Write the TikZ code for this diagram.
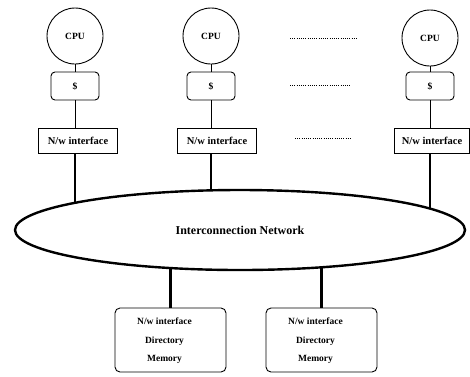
\documentclass[tikz,border=0pt]{standalone}
\usepackage{fontspec}
\setmainfont{Liberation Serif}
\usetikzlibrary{shapes.geometric,backgrounds}
\begin{document}
\begin{tikzpicture}[x=1pt,y=-1pt,
 cpunode/.style={circle,draw,line width=0.9pt,minimum size=56pt,inner sep=0pt,font=\fontsize{9.5}{11}\selectfont\bfseries},
 cachebox/.style={draw,rounded corners=4pt,line width=0.9pt,minimum width=48pt,minimum height=28pt,inner sep=0pt,font=\fontsize{9.5}{11}\selectfont\bfseries},
 nwbox/.style={draw,line width=0.9pt,minimum width=79pt,minimum height=25pt,inner sep=0pt,font=\fontsize{10.5}{12}\selectfont\bfseries},
 netnode/.style={ellipse,draw,line width=2.4pt,fill=white,minimum width=450pt,minimum height=80pt,inner sep=0pt,font=\fontsize{12}{14}\selectfont\bfseries},
 membox/.style={draw,rounded corners=5pt,line width=0.9pt,minimum width=111pt,minimum height=64pt,inner sep=0pt},
 memtext/.style={font=\fontsize{9.5}{18.5}\selectfont\bfseries,align=center,inner sep=0pt},
 thinlink/.style={line width=0.9pt},
 thicklink/.style={line width=2.4pt},
 dotrow/.style={line width=0.6pt,dash pattern=on 0.6pt off 1.6pt}]
\useasboundingbox (0,0) rectangle (470,376);

% processor columns
\node[cpunode] (cpu1) at (75,36) {CPU};
\node[cpunode] (cpu2) at (211,36) {CPU};
\node[cpunode] (cpu3) at (430,38) {CPU};
\node[cachebox] (cache1) at (75,86) {\$};
\node[cachebox] (cache2) at (211,86) {\$};
\node[cachebox] (cache3) at (430,86) {\$};
\node[nwbox] (nw1) at (78,140.5) {N/w interface};
\node[nwbox] (nw2) at (217,140.5) {N/w interface};
\node[nwbox,minimum width=75pt] (nw3) at (432,140.5) {N/w interface};

% network
\node[netnode] (net) at (240,230) {Interconnection Network};

% memory modules
\node[membox] (mem1) at (170.5,340) {};
\node[membox] (mem2) at (321.5,340) {};
\node[memtext] (mem1t) at (164.5,341) {N/w interface\\Directory\\Memory};
\node[memtext] (mem2t) at (315.5,341) {N/w interface\\Directory\\Memory};

% thin links
\foreach \i in {1,2,3}{
  \draw[thinlink] (cpu\i.south) -- (cache\i.north);
  \draw[thinlink] (cache\i.south) -- (cache\i.south |- nw\i.north);
}

% thick links behind the network
\begin{scope}[on background layer]
\foreach \i in {1,2,3}{
  \draw[thicklink] (cache\i.south |- nw\i.south) -- (cache\i.south |- net.center);
}
\draw[thicklink] (mem1.north) -- (mem1.north |- net.center);
\draw[thicklink] (mem2.north) -- (mem2.north |- net.center);
\end{scope}

% dotted rows
\draw[dotrow] (290,38) -- (358,38);
\draw[dotrow] (290,85) -- (350,85);
\draw[dotrow] (295,138) -- (352,138);
\end{tikzpicture}
\end{document}
